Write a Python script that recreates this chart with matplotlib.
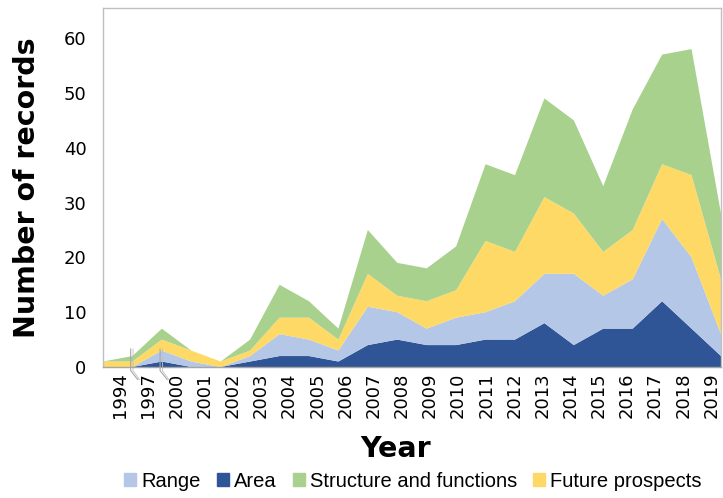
import matplotlib
matplotlib.use("Agg")
import matplotlib.pyplot as plt
from matplotlib.patches import Patch
import matplotlib.transforms as mtransforms
import numpy as np

years = ['1994', '1997', '2000', '2001', '2002', '2003', '2004', '2005', '2006',
         '2007', '2008', '2009', '2010', '2011', '2012', '2013', '2014', '2015',
         '2016', '2017', '2018', '2019']
area = [0, 0, 1, 0, 0, 1, 2, 2, 1, 4, 5, 4, 4, 5, 5, 8, 4, 7, 7, 12, 7, 2]
range_ = [0, 0, 2, 1, 0, 1, 4, 3, 2, 7, 5, 3, 5, 5, 7, 9, 13, 6, 9, 15, 13, 4]
future = [1, 1, 2, 2, 1, 1, 3, 4, 2, 6, 3, 5, 5, 13, 9, 14, 11, 8, 9, 10, 15, 10]
structure = [0, 1, 2, 0, 0, 2, 6, 3, 2, 8, 6, 6, 8, 14, 14, 18, 17, 12, 22, 20, 23, 12]
yticks = [0, 10, 20, 30, 40, 50, 60]

c_area = '#2F5597'
c_range = '#B4C7E7'
c_struct = '#A9D18E'
c_future = '#FFD966'

fig = plt.figure(figsize=(7.23, 4.98), dpi=100)
ax = fig.add_axes([103/723, 1-367/498, (721-103)/723, (367-8)/498])

x = np.arange(len(years))
ax.stackplot(x, area, range_, future, structure,
             colors=[c_area, c_range, c_future, c_struct], linewidth=0)

ax.set_xlim(0, len(years) - 1)
ax.set_ylim(0, 65.5)
ax.set_yticks(yticks)
ax.set_yticklabels([str(v) for v in yticks], fontsize=13, family='DejaVu Sans')
# category labels sit on a slightly compressed, shifted grid (as in the source)
ax.set_xticks(0.578 + 0.957 * x)
ax.set_xticklabels(years, rotation=90, fontsize=13, family='DejaVu Sans')
ax.tick_params(length=0, pad=4)
ax.tick_params(axis='y', pad=12)

for s in ['top', 'right', 'left']:
    ax.spines[s].set_color('#BFBFBF')
    ax.spines[s].set_linewidth(1)
ax.spines['bottom'].set_color('#A6A6A6')
ax.spines['bottom'].set_linewidth(1)

# axis break marks near 1997 and 2000
trans = mtransforms.blended_transform_factory(ax.transData, ax.transAxes)
for xi in [1, 2]:
    ax.plot([xi - 0.06, xi - 0.06, xi + 0.18], [0.05, -0.01, -0.035],
            color='#A6A6A6', lw=0.8, transform=trans, clip_on=False)
    ax.plot([xi + 0.02, xi + 0.02, xi + 0.24], [0.05, -0.01, -0.035],
            color='#BFBFBF', lw=0.6, transform=trans, clip_on=False)

ax.set_ylabel('Number of records', fontsize=20.5, fontweight='bold',
              family='DejaVu Sans', labelpad=16)
fig.text(396/723, 1-449/498, 'Year', fontsize=20.5, fontweight='bold',
         family='DejaVu Sans', ha='center', va='center')

handles = [Patch(color=c_range, label='Range'),
           Patch(color=c_area, label='Area'),
           Patch(color=c_struct, label='Structure and functions'),
           Patch(color=c_future, label='Future prospects')]
fig.legend(handles=handles, loc='center', bbox_to_anchor=(413/723, 1-481/498),
           ncol=4, frameon=False, prop={'family': 'Liberation Sans', 'size': 14.5},
           handlelength=0.6, handleheight=0.6, handletextpad=0.25,
           columnspacing=0.8, borderaxespad=0)

fig.savefig('out.png', dpi=100)
